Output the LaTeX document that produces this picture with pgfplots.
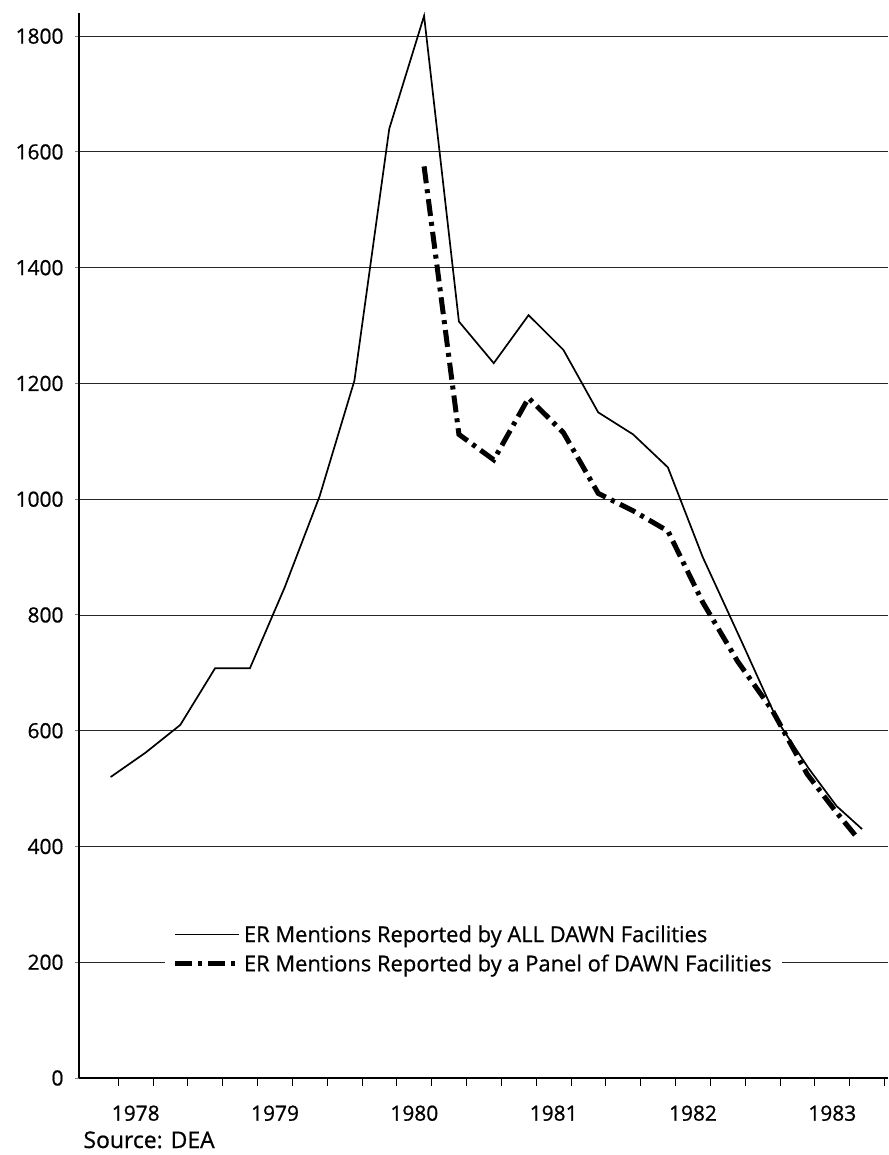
\documentclass[border=0pt]{standalone}
\usepackage{pgfplots}
\pgfplotsset{compat=1.18}
\usepackage{fontspec}
\setmainfont{Open Sans}[FakeBold=0.8]
\begin{document}
\begin{tikzpicture}
\begin{axis}[
  at={(0,0)}, anchor=south west,
  scale only axis, width=809bp, height=1065bp,
  xmin=1978.093, xmax=1983.9, ymin=0, ymax=1840,
  axis x line=bottom, axis y line=left,
  axis line style={-, line width=1.4bp},
  tick align=outside,
  font=\fontsize{21}{24}\selectfont,
  /pgf/number format/assume math mode=true,
  ytick={0,200,...,1800},
  yticklabels={0,200,400,600,800,1000,1200,1400,1600,1800},
  ytick style={line width=1bp},
  major tick length=4bp,
  yticklabel style={xshift=-8bp},
  ymajorgrids, grid style={black!85, line width=0.9bp},
  xtick={1978.5,1979.5,1980.5,1981.5,1982.5,1983.5},
  xticklabels={1978,1979,1980,1981,1982,1983},
  xtick style={draw=none},
  xticklabel style={yshift=-20bp},
  minor xtick={1978.375,1978.625,1978.875,1979.125,1979.375,1979.625,1979.875,1980.125,1980.375,1980.625,1980.875,1981.125,1981.375,1981.625,1981.875,1982.125,1982.375,1982.625,1982.875,1983.125,1983.375,1983.625,1983.875},
  minor tick length=8bp,
  minor x tick style={draw=black, line width=1bp},
  extra x ticks={1979,1980,1981,1982,1983},
  extra x tick labels={},
  extra x tick style={major tick length=30bp, tick style={draw=black, line width=1bp}, grid=none},
  clip=false,
  legend cell align=left,
  legend style={draw=none, fill=white, at={(rel axis cs:0.106,0.121)}, anchor=west,
    font=\fontsize{22}{26}\selectfont, row sep=7bp, inner xsep=8bp, inner ysep=6bp},
  legend image code/.code={\draw[#1] (0bp,0bp) -- (64bp,0bp);},
]
\addplot[black, line width=1.7bp] coordinates {
(1978.320,520) (1978.570,562) (1978.820,610) (1979.070,708) (1979.320,708)
(1979.570,848) (1979.820,1005) (1980.070,1205) (1980.320,1640) (1980.570,1835)
(1980.820,1307) (1981.070,1235) (1981.320,1318) (1981.570,1258) (1981.820,1150)
(1982.070,1112) (1982.320,1055) (1982.570,900) (1982.853,752) (1983.111,615)
(1983.330,535) (1983.530,470) (1983.714,430)
};
\addlegendentry{ER Mentions Reported by ALL DAWN Facilities}
\addplot[black, line width=5bp, dash pattern=on 17bp off 6bp on 4bp off 6bp] coordinates {
(1980.570,1575) (1980.820,1112) (1981.070,1068) (1981.320,1175) (1981.570,1115)
(1981.820,1010) (1982.070,980) (1982.320,945) (1982.570,822) (1982.820,720)
(1983.070,635) (1983.320,525) (1983.520,462) (1983.690,412)
};
\addlegendentry{ER Mentions Reported by a Panel of DAWN Facilities}
\node[anchor=base west, font=\fontsize{23}{26}\selectfont] at ([xshift=1bp,yshift=-70bp]rel axis cs:0,0) {Source: DEA};
\end{axis}
\path[use as bounding box] (-79bp,-77bp) rectangle (809bp,1078bp);
\end{tikzpicture}
\end{document}
